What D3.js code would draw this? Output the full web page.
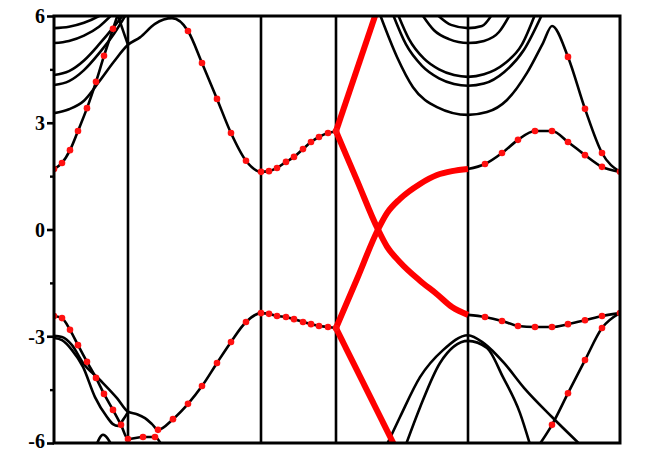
<!DOCTYPE html>
<html>
<head>
<meta charset="utf-8">
<script src="https://cdn.jsdelivr.net/npm/d3@7"></script>
<style>
  body { margin: 0; background: #fff; }
  .tick text { font-family: "Liberation Serif", "Times New Roman", serif; font-weight: bold; font-size: 20px; }
</style>
</head>
<body>
<script>
// k-path node positions (path length) and energy ticks (eV)
const nodes = [0, 0.74, 2.07, 2.82, 4.14, 5.66];
const yTicks = [-6, -3, 0, 3, 6];
const yMinor = [-4.5, -1.5, 1.5, 4.5];

// plain black bands, [k, E]
const cb1 = [[0,5.66],[0.15,5.70],[0.30,5.81],[0.45,6.0],[0.5,6.08]];
const cb2 = [[0,5.24],[0.15,5.30],[0.30,5.45],[0.45,5.70],[0.58,6.04]];
const cb3 = [[0,4.34],[0.15,4.45],[0.30,4.75],[0.45,5.2],[0.60,5.7],[0.70,6.06]];
const cb4 = [[0,4.06],[0.15,4.17],[0.30,4.48],[0.45,4.95],[0.60,5.5],[0.72,6.04]];
const cb6 = [[0.63,6.08],[0.74,5.19]];
const vb  = [[0,-3.05],[0.08,-3.11],[0.18,-3.39],[0.29,-3.86],[0.41,-4.71],[0.53,-5.27],[0.59,-5.47],[0.64,-5.52],[0.69,-5.35],[0.74,-5.13]];
const bump = [[0.42,-6.08],[0.49,-5.77],[0.58,-6.08]];
const q1 = [[3.26,6.04],[3.43,4.85],[3.59,4.0],[3.83,3.44],[4.14,3.22],[4.33,3.30],[4.53,3.64],[4.73,4.40],[4.89,5.24],[4.98,5.72],[5.14,4.85],[5.31,3.39],[5.48,2.15],[5.66,1.62]];
const q2 = [[3.39,6.04],[3.52,5.2],[3.68,4.6],[3.85,4.25],[4.0,4.09],[4.14,4.04],[4.30,4.10],[4.50,4.42],[4.70,5.05],[4.88,6.04]];
const q3 = [[3.44,6.04],[3.55,5.35],[3.70,4.80],[3.85,4.50],[4.0,4.34],[4.14,4.29],[4.30,4.36],[4.50,4.65],[4.68,5.20],[4.81,6.04]];
const q4 = [[3.68,6.04],[3.80,5.6],[3.95,5.35],[4.14,5.24],[4.30,5.30],[4.45,5.55],[4.56,6.04]];
const q5 = [[3.83,6.04],[3.97,5.75],[4.14,5.66],[4.28,5.72],[4.38,6.04]];
const l1 = [[3.33,-6.04],[3.46,-5.27],[3.66,-4.15],[3.89,-3.39],[4.14,-2.97],[4.30,-3.20],[4.50,-3.75],[4.70,-4.45],[4.98,-5.27],[5.26,-6.04]];
const l2 = [[3.52,-6.04],[3.66,-5.0],[3.86,-3.75],[4.14,-3.13],[4.33,-3.33],[4.49,-4.15],[4.66,-5.16],[4.76,-6.04]];

// bands carrying red markers
const cd1 = [[0,1.70],[0.08,1.87],[0.16,2.23],[0.24,2.77],[0.33,3.41],[0.42,4.15],[0.50,4.88],[0.59,5.64],[0.64,6.06]];
const cd2 = [[0,3.27],[0.15,3.38],[0.30,3.62],[0.45,4.15],[0.60,4.72],[0.74,5.19],[0.86,5.40],[1.01,5.78],[1.18,5.94],[1.34,5.58],[1.48,4.68],[1.63,3.67],[1.77,2.71],[1.92,1.93],[2.07,1.62],[2.15,1.64],[2.23,1.73],[2.32,1.90],[2.40,2.04],[2.49,2.26],[2.57,2.46],[2.65,2.60],[2.74,2.71],[2.82,2.76]];
const cd3 = [[4.14,1.70],[4.31,1.84],[4.48,2.15],[4.64,2.52],[4.81,2.77],[4.98,2.77],[5.14,2.46],[5.31,2.09],[5.48,1.76],[5.66,1.62]];
const vd1 = [[0,-2.43],[0.08,-2.49],[0.16,-2.82],[0.24,-3.25],[0.33,-3.72],[0.42,-4.17],[0.50,-4.62],[0.59,-5.07],[0.67,-5.49],[0.74,-5.89],[0.89,-5.83],[1.01,-5.83],[1.08,-6.08]];
const vd2 = [[0,-2.99],[0.08,-3.02],[0.18,-3.25],[0.29,-3.75],[0.46,-4.23],[0.63,-4.74],[0.74,-5.12],[0.83,-5.19],[0.91,-5.30],[0.98,-5.47],[1.04,-5.63],[1.19,-5.33],[1.34,-4.90],[1.48,-4.40],[1.63,-3.75],[1.77,-3.16],[1.92,-2.60],[2.07,-2.35],[2.15,-2.37],[2.23,-2.43],[2.32,-2.46],[2.40,-2.52],[2.49,-2.60],[2.57,-2.66],[2.65,-2.71],[2.74,-2.74],[2.82,-2.77]];
const vd3 = [[4.14,-2.40],[4.31,-2.46],[4.48,-2.57],[4.64,-2.71],[4.81,-2.74],[4.98,-2.74],[5.14,-2.66],[5.31,-2.55],[5.48,-2.43],[5.66,-2.35]];
const vd4 = [[4.85,-6.06],[4.98,-5.49],[5.14,-4.60],[5.31,-3.67],[5.48,-2.77],[5.66,-2.35]];

// red marker positions
const dots = [
  ...cd1.slice(0, -1),
  ...cd2.slice(9),
  ...cd3.slice(1),
  [5.14,4.85],[5.31,3.39],[5.48,2.15],
  ...vd1.slice(0, -1),
  ...vd2.slice(10),
  ...vd3.slice(1),
  ...vd4.slice(1, -1)
];

// thick red bands around the gap
const r1 = [[2.82,2.76],[3.22,6.08]];
const r2 = [[2.82,2.76],[3.03,1.38],[3.24,0],[3.33,-0.48],[3.46,-0.92],[3.66,-1.44],[3.83,-1.82],[3.98,-2.18],[4.14,-2.40]];
const r3 = [[2.82,-2.77],[3.03,-1.39],[3.24,0],[3.33,0.46],[3.46,0.86],[3.66,1.28],[3.83,1.53],[3.98,1.64],[4.14,1.70]];
const r4 = [[2.82,-2.77],[3.41,-6.1]];

const blackBands = [cb1, cb2, cb3, cb4, cb6, vb, bump, q1, q2, q3, q4, q5, l1, l2, cd1, cd2, cd3, vd1, vd2, vd3, vd4];
const redBands = [r1, r2, r3, r4];

const w = 648, h = 453;
const x = d3.scaleLinear().domain([0, 5.66]).range([54, 620]);
const y = d3.scaleLinear().domain([-6, 6]).range([443, 16]);

const svg = d3.select("body").append("svg")
  .attr("width", w)
  .attr("height", h);

svg.append("clipPath").attr("id", "plot")
  .append("rect")
  .attr("x", x(0)).attr("y", y(6))
  .attr("width", x(5.66) - x(0)).attr("height", y(-6) - y(6));

const line = d3.line()
  .x(d => x(d[0]))
  .y(d => y(d[1]))
  .curve(d3.curveMonotoneX);

// high-symmetry lines
svg.selectAll("line.node")
  .data(nodes.slice(1, -1))
  .enter().append("line")
  .attr("class", "node")
  .attr("x1", d => x(d)).attr("x2", d => x(d))
  .attr("y1", y(6)).attr("y2", y(-6))
  .attr("stroke", "#000")
  .attr("stroke-width", 2.6);

const plot = svg.append("g").attr("clip-path", "url(#plot)");

plot.selectAll("path.band")
  .data(blackBands)
  .enter().append("path")
  .attr("class", "band")
  .attr("d", line)
  .attr("fill", "none")
  .attr("stroke", "#000")
  .attr("stroke-width", 2.6);

plot.selectAll("path.red")
  .data(redBands)
  .enter().append("path")
  .attr("class", "red")
  .attr("d", line)
  .attr("fill", "none")
  .attr("stroke", "#ff0000")
  .attr("stroke-width", 6);

plot.selectAll("circle")
  .data(dots)
  .enter().append("circle")
  .attr("cx", d => x(d[0]))
  .attr("cy", d => y(d[1]))
  .attr("r", 3.3)
  .attr("fill", "#ff1010");

// frame
svg.append("rect")
  .attr("x", x(0)).attr("y", y(6))
  .attr("width", x(5.66) - x(0)).attr("height", y(-6) - y(6))
  .attr("fill", "none")
  .attr("stroke", "#000")
  .attr("stroke-width", 3);

const yAxis = d3.axisLeft(y)
  .tickValues(yTicks)
  .tickSize(7)
  .tickPadding(2)
  .tickFormat(d => String(d));

const ga = svg.append("g")
  .attr("transform", `translate(${x(0)},0)`)
  .call(yAxis);
ga.select(".domain").remove();
ga.selectAll(".tick line").attr("stroke-width", 2.6);
ga.selectAll(".tick text")
  .attr("fill", "#000")
  .attr("dy", d => d === -6 ? "0.22em" : "0.34em");

const gm = svg.append("g")
  .attr("transform", `translate(${x(0)},0)`)
  .call(d3.axisLeft(y).tickValues(yMinor).tickSize(4).tickFormat(""));
gm.select(".domain").remove();
gm.selectAll(".tick line").attr("stroke-width", 2.4);
</script>
</body>
</html>
